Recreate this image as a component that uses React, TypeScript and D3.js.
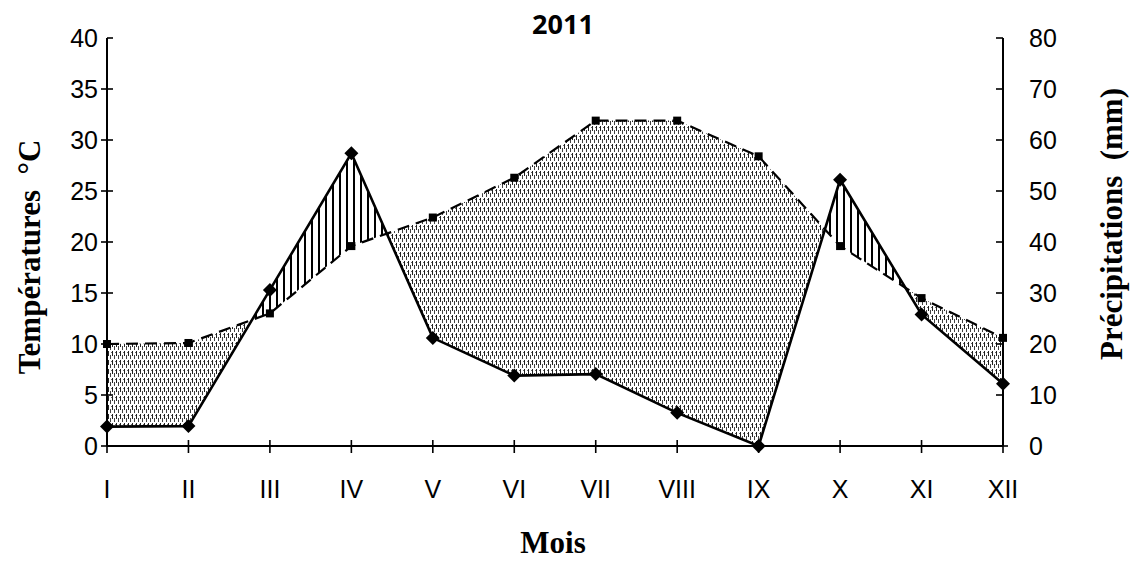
import React from "react";
import * as d3 from "d3";

const months = ["I", "II", "III", "IV", "V", "VI", "VII", "VIII", "IX", "X", "XI", "XII"];
const temperature = [10, 10.1, 13, 19.6, 22.4, 26.3, 31.9, 31.9, 28.4, 19.6, 14.5, 10.6];
const precipitation = [3.8, 3.9, 30.6, 57.4, 21.2, 13.8, 14.1, 6.5, 0, 52.2, 25.8, 12.2];
const tempTicks = [0, 5, 10, 15, 20, 25, 30, 35, 40];
const precTicks = [0, 10, 20, 30, 40, 50, 60, 70, 80];

const W = 1132, H = 562;
const X0 = 107, X1 = 1003, Y0 = 446, Y1 = 38;

type Node = { i: number; t: number; p: number; cross: boolean };

export default function App() {
  const x = d3.scalePoint<string>().domain(months).range([X0, X1]);
  const xi = d3.scaleLinear().domain([0, months.length - 1]).range([X0, X1]);
  const yT = d3.scaleLinear().domain([0, 40]).range([Y0, Y1]);
  const yP = d3.scaleLinear().domain([0, 80]).range([Y0, Y1]);

  const tempLine = d3.line<number>().x((_, i) => x(months[i])!).y((d) => yT(d));
  const precLine = d3.line<number>().x((_, i) => x(months[i])!).y((d) => yP(d));

  // Build dry (T > P/2) and humid (P/2 > T) regions
  const nodes: Node[] = [];
  for (let i = 0; i < months.length; i++) {
    const t = temperature[i], p = precipitation[i] / 2;
    nodes.push({ i, t, p, cross: false });
    if (i < months.length - 1) {
      const d0 = t - p;
      const t1 = temperature[i + 1], p1 = precipitation[i + 1] / 2;
      const d1 = t1 - p1;
      if (d0 * d1 < 0) {
        const f = d0 / (d0 - d1);
        const v = t + f * (t1 - t);
        nodes.push({ i: i + f, t: v, p: v, cross: true });
      }
    }
  }
  const runs: { dry: boolean; pts: Node[] }[] = [];
  let dry = nodes[0].t - nodes[0].p > 0;
  let cur: Node[] = [nodes[0]];
  for (let k = 1; k < nodes.length; k++) {
    const n = nodes[k];
    cur.push(n);
    if (n.cross) {
      runs.push({ dry, pts: cur });
      cur = [n];
      dry = !dry;
    }
  }
  if (cur.length > 1) runs.push({ dry, pts: cur });

  const polyPath = (pts: Node[]) => {
    const top = pts.map((n) => [xi(n.i), yT(n.t)] as [number, number]);
    const bot = pts.slice().reverse().map((n) => [xi(n.i), yT(n.p)] as [number, number]);
    return d3.line()([...top, ...bot]) + "Z";
  };

  const tickFont = "'Liberation Sans', Arial, sans-serif";
  const serif = "'Liberation Serif', 'Times New Roman', serif";

  return (
    <svg width={W} height={H} style={{ position: "absolute", left: 0, top: 0, background: "#fff" }}>
      <defs>
        <pattern id="stipple" width="4" height="9" patternUnits="userSpaceOnUse">
          <rect x="0" y="0" width="1" height="5" fill="#222" />
          <rect x="2" y="4" width="1" height="4" fill="#444" />
          <rect x="3" y="1" width="1" height="1" fill="#666" />
        </pattern>
        <pattern id="hatch" width="7" height="10" patternUnits="userSpaceOnUse">
          <rect x="3" y="0" width="2" height="10" fill="#000" />
        </pattern>
      </defs>
      <rect width={W} height={H} fill="#fff" />

      {/* regions */}
      {runs.map((r, k) => (
        <path key={k} d={polyPath(r.pts)} fill={r.dry ? "url(#stipple)" : "url(#hatch)"} stroke="none" />
      ))}

      {/* x axis */}
      <line x1={X0} x2={X1} y1={Y0} y2={Y0} stroke="#000" strokeWidth={2} />
      {months.map((m) => (
        <g key={m}>
          <line x1={x(m)} x2={x(m)} y1={Y0 - 6} y2={Y0 + 7} stroke="#000" strokeWidth={1.6} />
          <text x={x(m)} y={Y0 + 52} textAnchor="middle" fontFamily={tickFont} fontSize={25} fill="#000">{m}</text>
        </g>
      ))}

      {/* left axis */}
      <line x1={X0} x2={X0} y1={Y0} y2={Y1} stroke="#000" strokeWidth={2} />
      {tempTicks.map((t) => (
        <g key={t}>
          <line x1={t === 40 ? X0 : X0 - 6} x2={X0 + 6} y1={yT(t)} y2={yT(t)} stroke="#000" strokeWidth={1.6} />
          <text x={X0 - 9} y={yT(t) + 9} textAnchor="end" fontFamily={tickFont} fontSize={25} fill="#000">{t}</text>
        </g>
      ))}

      {/* right axis */}
      <line x1={X1} x2={X1} y1={Y0} y2={Y1} stroke="#000" strokeWidth={2} />
      {precTicks.map((p) => (
        <g key={p}>
          <line x1={X1 - 7} x2={p === 0 ? X1 + 5 : X1} y1={yP(p)} y2={yP(p)} stroke="#000" strokeWidth={1.6} />
          <text x={X1 + 26} y={yP(p) + 9} textAnchor="start" fontFamily={tickFont} fontSize={25} fill="#000">{p}</text>
        </g>
      ))}

      {/* temperature (dashed) */}
      <path d={tempLine(temperature)!} fill="none" stroke="#000" strokeWidth={2.2} strokeDasharray="12,7" />
      {temperature.map((t, i) => (
        <rect key={i} x={x(months[i])! - 4} y={yT(t) - 4} width={8} height={8} fill="#000" />
      ))}

      {/* precipitation (solid) */}
      <path d={precLine(precipitation)!} fill="none" stroke="#000" strokeWidth={2.6} />
      {precipitation.map((p, i) => {
        const cx = x(months[i])!, cy = yP(p);
        return <path key={i} d={`M${cx},${cy - 7}L${cx + 7},${cy}L${cx},${cy + 7}L${cx - 7},${cy}Z`} fill="#000" />;
      })}

      {/* titles */}
      <text x={563} y={34} textAnchor="middle" fontFamily="'Open Sans', sans-serif" fontWeight={700} fontSize={27} fill="#000">2011</text>
      <text x={553} y={553} textAnchor="middle" fontFamily={serif} fontWeight={700} fontSize={31} fill="#000">Mois</text>
      <text transform="translate(40,257) rotate(-90)" textAnchor="middle" fontFamily={serif} fontWeight={700} fontSize={31} fill="#000" xmlSpace="preserve">Températures  °C</text>
      <text transform="translate(1122,224) rotate(-90)" textAnchor="middle" fontFamily={serif} fontWeight={700} fontSize={31} fill="#000" xmlSpace="preserve">Précipitations  (mm)</text>
    </svg>
  );
}
